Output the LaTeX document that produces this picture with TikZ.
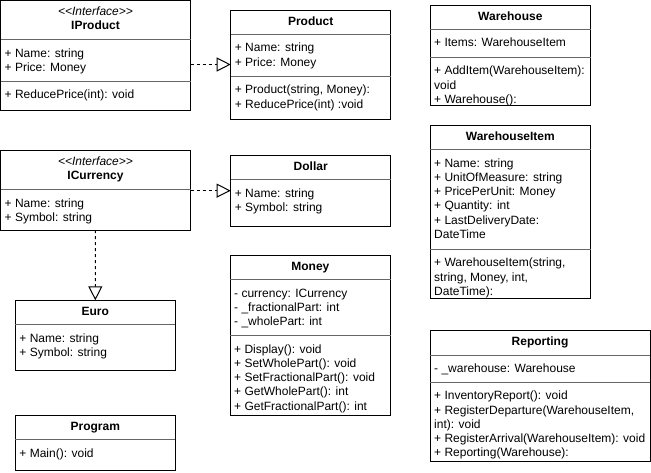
\documentclass[tikz,border=0pt]{standalone}
\usepackage{fontspec}
\setmainfont{Liberation Sans}
\usetikzlibrary{arrows.meta}
\tikzset{
  box/.style={draw, line width=1pt, inner sep=0pt, outer sep=0pt, anchor=north west, fill=white},
  div/.style={draw=black!60, line width=1pt},
  ttl/.style={font=\bfseries\fontsize{12}{14.4}\selectfont, inner sep=0pt, text height=8.6pt, text depth=0pt, anchor=center},
  stereo/.style={font=\itshape\fontsize{12}{14.4}\selectfont, inner sep=0pt, text height=8.6pt, text depth=0pt, anchor=center},
  flds/.style={font=\fontsize{12}{14.3}\selectfont, inner sep=0pt, align=left, anchor=north west},
  real/.style={line width=1pt, dash pattern=on 3pt off 3pt, -{Triangle[open, length=14pt, width=14pt]}}
}
\begin{document}
\begin{tikzpicture}[x=1pt, y=-1pt]
\useasboundingbox (0,0) rectangle (651,472);

% IProduct
\node[box, minimum width=190pt, minimum height=109.5pt] (IProduct) at (0.5,0.5) {};
\node[stereo] (IProduct-s) at (95.5,11) {<\kern0pt<Interface>\kern0pt>};
\node[ttl] (IProduct-t) at (95.5,25.5) {IProduct};
\draw[div] (0.5,39.5) -- (190.5,39.5);
\node[flds] (IProduct-f) at (4.5,47) {\strut+ Name: string\\\strut+ Price: Money};
\draw[div] (0.5,81) -- (190.5,81);
\node[flds] (IProduct-m) at (4.5,88.5) {\strut+ ReducePrice(int): void};

% Product
\node[box, minimum width=160pt, minimum height=109pt] (Product) at (230.7,10) {};
\node[ttl] (Product-t) at (310.7,20.7) {Product};
\draw[div] (230.7,34) -- (390.7,34);
\node[flds] (Product-f) at (234.7,41.5) {\strut+ Name: string\\\strut+ Price: Money};
\draw[div] (230.7,76) -- (390.7,76);
\node[flds] (Product-m) at (234.7,83.5) {\strut+ Product(string, Money):\\\strut+ ReducePrice(int) :void};

% Warehouse
\node[box, minimum width=160.7pt, minimum height=99.7pt] (Warehouse) at (430,5.3) {};
\node[ttl] (Warehouse-t) at (510.35,16) {Warehouse};
\draw[div] (430,29) -- (590.7,29);
\node[flds] (Warehouse-f) at (434,36.5) {\strut+ Items: WarehouseItem};
\draw[div] (430,57) -- (590.7,57);
\node[flds] (Warehouse-m) at (434,64.5) {\strut+ AddItem(WarehouseItem):\\\strut void\\\strut+ Warehouse():};

% ICurrency
\node[box, minimum width=190pt, minimum height=80pt] (ICurrency) at (0.5,150) {};
\node[stereo] (ICurrency-s) at (95.5,160.7) {<\kern0pt<Interface>\kern0pt>};
\node[ttl] (ICurrency-t) at (95.5,175.5) {ICurrency};
\draw[div] (0.5,189.3) -- (190.5,189.3);
\node[flds] (ICurrency-f) at (4.5,196.8) {\strut+ Name: string\\\strut+ Symbol: string};

% Dollar
\node[box, minimum width=160pt, minimum height=70.7pt] (Dollar) at (230.7,155.3) {};
\node[ttl] (Dollar-t) at (310.7,166) {Dollar};
\draw[div] (230.7,179.3) -- (390.7,179.3);
\node[flds] (Dollar-f) at (234.7,186.8) {\strut+ Name: string\\\strut+ Symbol: string};

% WarehouseItem
\node[box, minimum width=160.7pt, minimum height=172.7pt] (WarehouseItem) at (430,125.3) {};
\node[ttl] (WarehouseItem-t) at (510.35,136) {WarehouseItem};
\draw[div] (430,149.3) -- (590.7,149.3);
\node[flds] (WarehouseItem-f) at (434,156.8) {\strut+ Name: string\\\strut+ UnitOfMeasure: string\\\strut+ PricePerUnit: Money\\\strut+ Quantity: int\\\strut+ LastDeliveryDate:\\\strut DateTime};
\draw[div] (430,249) -- (590.7,249);
\node[flds] (WarehouseItem-m) at (434,256.5) {\strut+ WarehouseItem(string,\\\strut string, Money, int,\\\strut DateTime):};

% Euro
\node[box, minimum width=160pt, minimum height=69.7pt] (Euro) at (15.3,300.3) {};
\node[ttl] (Euro-t) at (95.3,311) {Euro};
\draw[div] (15.3,324.3) -- (175.3,324.3);
\node[flds] (Euro-f) at (19.3,331.8) {\strut+ Name: string\\\strut+ Symbol: string};

% Money
\node[box, minimum width=160.7pt, minimum height=160.4pt] (Money) at (230,255.3) {};
\node[ttl] (Money-t) at (310.35,266) {Money};
\draw[div] (230,279.3) -- (390.7,279.3);
\node[flds] (Money-f) at (234,286.8) {\strut- currency: ICurrency\\\strut- \_fractionalPart: int\\\strut- \_wholePart: int};
\draw[div] (230,335.3) -- (390.7,335.3);
\node[flds] (Money-m) at (234,342.8) {\strut+ Display(): void\\\strut+ SetWholePart(): void\\\strut+ SetFractionalPart(): void\\\strut+ GetWholePart(): int\\\strut+ GetFractionalPart(): int};

% Program
\node[box, minimum width=160pt, minimum height=54.7pt] (Program) at (15.3,415.3) {};
\node[ttl] (Program-t) at (95.3,426) {Program};
\draw[div] (15.3,439.3) -- (175.3,439.3);
\node[flds] (Program-m) at (19.3,446.8) {\strut+ Main(): void};

% Reporting
\node[box, minimum width=220pt, minimum height=131pt] (Reporting) at (430,330) {};
\node[ttl] (Reporting-t) at (540,341.2) {Reporting};
\draw[div] (430,355) -- (650,355);
\node[flds] (Reporting-f) at (434,362.5) {\strut- \_warehouse: Warehouse};
\draw[div] (430,382) -- (650,382);
\node[flds] (Reporting-m) at (434,389.5) {\strut+ InventoryReport(): void\\\strut+ RegisterDeparture(WarehouseItem,\\\strut int): void\\\strut+ RegisterArrival(WarehouseItem): void\\\strut+ Reporting(Warehouse):};

% Realizations
\draw[real] (IProduct.east |- Product.west) -- (Product.west);
\draw[real] (ICurrency.east |- Dollar.west) -- (Dollar.west);
\draw[real] (ICurrency.south) -- (Euro.north);
\end{tikzpicture}
\end{document}
